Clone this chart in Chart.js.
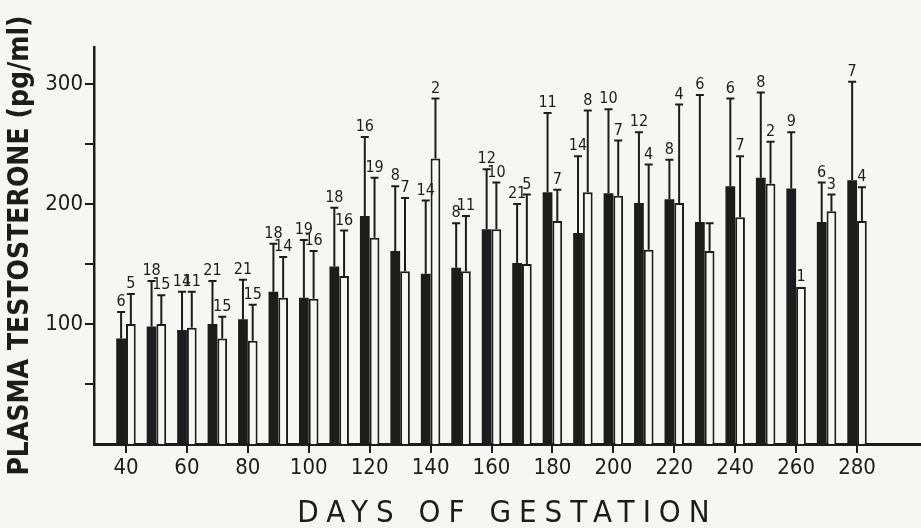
<!DOCTYPE html>
<html>
<head>
<meta charset="utf-8">
<script src="https://cdn.jsdelivr.net/npm/chart.js@4.4.0/dist/chart.umd.min.js"></script>
<style>
  html, body { margin: 0; padding: 0; background: #f6f6f3; }
  canvas { display: block; }
</style>
</head>
<body>
<canvas id="chartTestosterone" width="921" height="528"></canvas>
<script>
// days of gestation (one pair of bars per day)
var days = [40, 50, 60, 70, 80, 90, 100, 110, 120, 130, 140, 150, 160, 170, 180, 190, 200, 210, 220, 230, 240, 250, 260, 270, 280];

// black bars
var meanBlack = [88, 98, 95, 100, 104, 127, 122, 148, 190, 161, 142, 147, 179, 151, 210, 176, 209, 201, 204, 185, 215, 222, 213, 185, 220];
var sdBlack = [22, 38, 32, 36, 33, 40, 48, 49, 66, 54, 61, 37, 50, 49, 66, 64, 70, 59, 33, 106, 73, 71, 47, 33, 82];
var nBlack = [6, 18, 14, 21, 21, 18, 19, 18, 16, 8, 14, 8, 12, 21, 11, 14, 10, 12, 8, 6, 6, 8, 9, 6, 7];

// white bars
var meanWhite = [100, 100, 97, 88, 86, 122, 121, 140, 172, 144, 238, 144, 179, 150, 186, 210, 207, 162, 201, 161, 189, 217, 131, 194, 186];
var sdWhite = [25, 24, 30, 18, 30, 34, 40, 38, 50, 61, 50, 46, 39, 58, 26, 68, 46, 71, 82, 23, 51, 35, null, 14, 28];
var nWhite = [5, 15, 11, 15, 15, 14, 16, 16, 19, 7, 2, 11, 10, 5, 7, 8, 7, 4, 4, null, 7, 2, 1, 3, 4];

var xTicks = [40, 60, 80, 100, 120, 140, 160, 180, 200, 220, 240, 260, 280];
var yTicks = [50, 100, 150, 200, 250, 300];
var yLabels = [100, 200, 300];

var ink = "#1c1c1c";
var paper = "#f6f6f3";
var face = "'DejaVu Sans Condensed', 'DejaVu Sans', sans-serif";

var toPoints = (means) => days.map((d, i) => ({ x: d, y: means[i] }));

var paperBg = {
  id: "paperBg",
  beforeDraw: (chart) => {
    var ctx = chart.ctx;
    ctx.save();
    ctx.fillStyle = paper;
    ctx.fillRect(0, 0, chart.width, chart.height);
    ctx.restore();
  },
};

// error bars (upper only) + n above each one
var errorBars = {
  id: "errorBars",
  afterDatasetsDraw: (chart) => {
    var ctx = chart.ctx;
    var yScale = chart.scales.y;
    ctx.save();
    ctx.strokeStyle = ink;
    ctx.fillStyle = ink;
    ctx.lineWidth = 2;
    ctx.font = "16px " + face;
    ctx.textAlign = "center";
    ctx.textBaseline = "alphabetic";
    chart.data.datasets.forEach((ds, i) => {
      chart.getDatasetMeta(i).data.forEach((bar, j) => {
        var top = bar.y;
        if (ds.sd[j] != null) {
          top = yScale.getPixelForValue(ds.data[j].y + ds.sd[j]);
          ctx.beginPath();
          ctx.moveTo(bar.x, bar.y);
          ctx.lineTo(bar.x, top);
          ctx.moveTo(bar.x - 4, top);
          ctx.lineTo(bar.x + 4, top);
          ctx.stroke();
        }
        if (ds.n[j] != null) ctx.fillText(String(ds.n[j]), bar.x, top - 6);
      });
    });
    ctx.restore();
  },
};

var xTitle = {
  id: "xTitle",
  afterDraw: (chart) => {
    var ctx = chart.ctx;
    var area = chart.chartArea;
    ctx.save();
    ctx.fillStyle = ink;
    ctx.font = "31px " + face;
    ctx.letterSpacing = "8px";
    ctx.textAlign = "center";
    ctx.textBaseline = "alphabetic";
    ctx.fillText("DAYS OF GESTATION", (area.left + area.right) / 2, 522);
    ctx.restore();
  },
};

var chartTestosterone = new Chart(document.getElementById("chartTestosterone").getContext("2d"), {
  type: "bar",
  data: {
    datasets: [
      {
        data: toPoints(meanBlack),
        sd: sdBlack,
        n: nBlack,
        backgroundColor: ink,
        borderWidth: 0,
      },
      {
        data: toPoints(meanWhite),
        sd: sdWhite,
        n: nWhite,
        backgroundColor: paper,
        borderColor: ink,
        borderWidth: 2,
      },
    ],
  },
  options: {
    responsive: false,
    animation: false,
    devicePixelRatio: 1,
    layout: { padding: { top: 47, right: 0, bottom: 0, left: 0 } },
    datasets: { bar: { categoryPercentage: 0.64, barPercentage: 1 } },
    scales: {
      x: {
        type: "linear",
        min: 29.5,
        max: 301,
        offset: false,
        afterFit: (s) => { s.height = 84; },
        afterBuildTicks: (s) => { s.ticks = xTicks.map((v) => ({ value: v })); },
        grid: { offset: false, drawOnChartArea: false, tickLength: 9, color: ink, lineWidth: 2 },
        border: { color: ink, width: 3 },
        ticks: { color: ink, padding: 2, maxRotation: 0, autoSkip: false, font: { family: face, size: 22 } },
      },
      y: {
        min: 0,
        max: 331,
        afterFit: (s) => { s.width = 94; },
        afterBuildTicks: (s) => { s.ticks = yTicks.map((v) => ({ value: v })); },
        grid: { drawOnChartArea: false, tickLength: 9, color: ink, lineWidth: 2 },
        border: { color: ink, width: 2.5 },
        ticks: {
          color: ink,
          padding: 2,
          font: { family: face, size: 22 },
          callback: (v) => (yLabels.includes(v) ? String(v) : ""),
        },
        title: {
          display: true,
          text: "PLASMA TESTOSTERONE (pg/ml)",
          color: ink,
          font: { family: face, size: 28, weight: "bold" },
          padding: { top: 4, bottom: 0 },
        },
      },
    },
    plugins: {
      legend: { display: false },
      tooltip: { enabled: false },
    },
  },
  plugins: [paperBg, errorBars, xTitle],
});
</script>
</body>
</html>
